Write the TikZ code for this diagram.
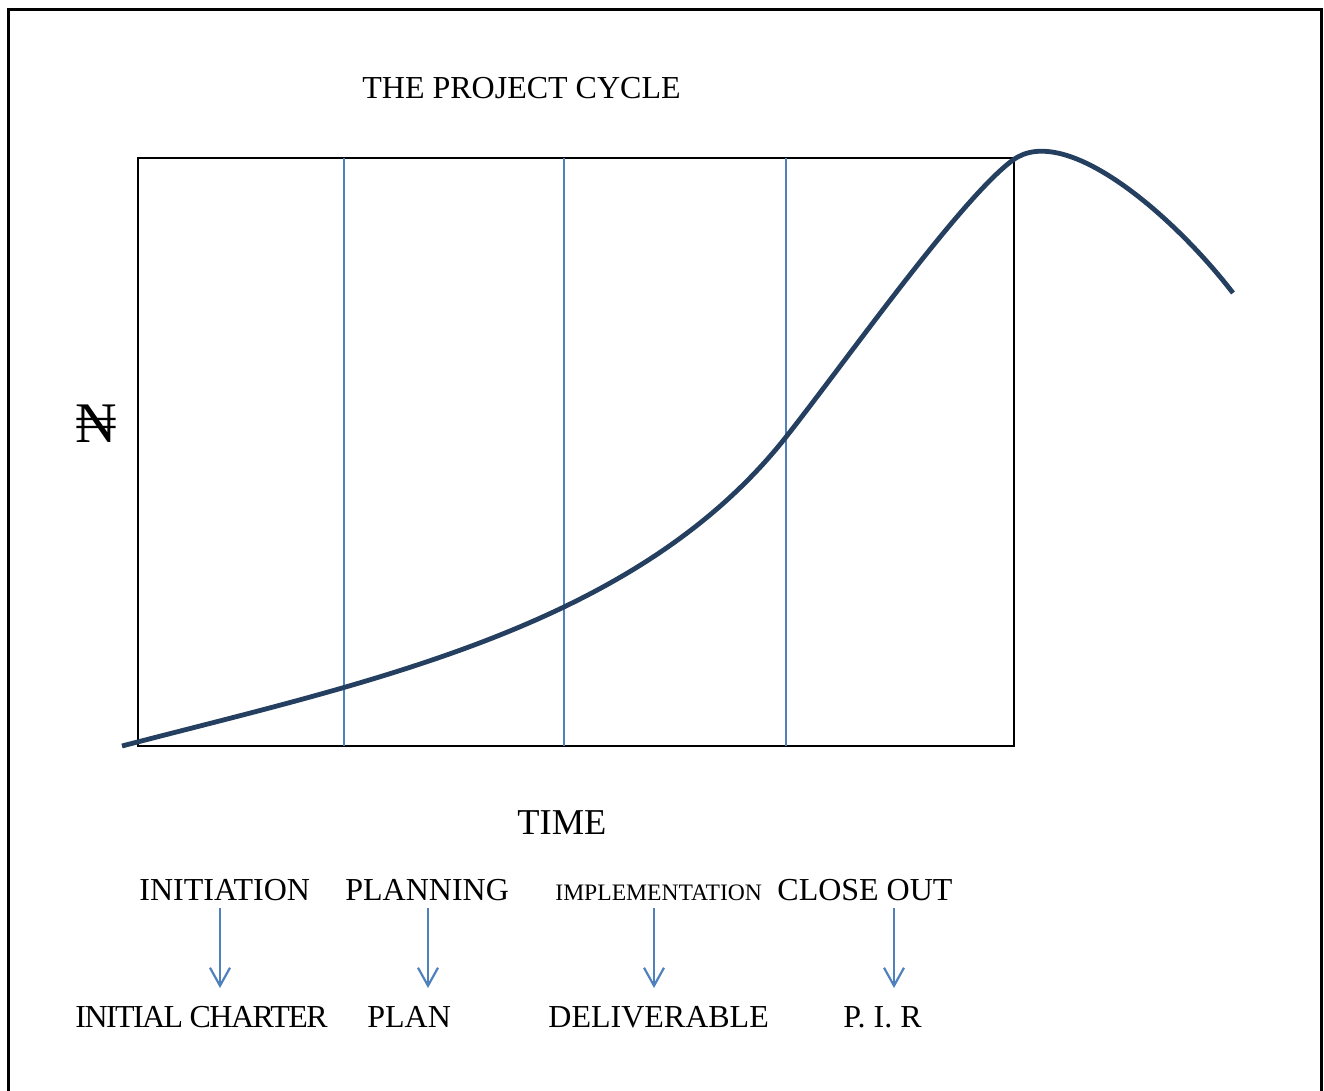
\documentclass[tikz,border=0pt]{standalone}
\usepackage{fontspec}
\setmainfont{Liberation Serif}
\usetikzlibrary{arrows.meta}
\definecolor{curveblue}{HTML}{243F60}
\definecolor{lineblue}{HTML}{4F81BD}
\begin{document}
\begin{tikzpicture}[x=0.5pt,y=-0.5pt,
  lbl/.style={inner sep=0pt, anchor=base west, font=\fontsize{16}{18}\selectfont},
  phasearrow/.style={draw=lineblue, line width=1.1pt, -{Straight Barb[length=9pt,width=10pt,line width=1.1pt]}},
  divider/.style={draw=lineblue, line width=0.75pt},
  frameline/.style={draw=black, line width=1.5pt}]
\useasboundingbox (0,0) rectangle (1324,1091);
% outer frame
\draw[frameline] (8,1091) -- (8,10) -- (1321,10) -- (1321,1091);
% chart box
\draw[black, line width=1pt] (138,158) rectangle (1014,746);
% dividers
\draw[divider] (344,158) -- (344,746);
\draw[divider] (564,158) -- (564,746);
\draw[divider] (786,158) -- (786,746);
% curve
\draw[curveblue, line width=2.4pt]
  (122,746) .. controls (372,681) and (636,627) .. (786,437)
            .. controls (846,361) and (961,198) .. (1013,160)
            .. controls (1065,122) and (1173,215) .. (1233,293);
% texts
\node[lbl] (title) at (362,99) {THE PROJECT CYCLE};
\node[lbl, font=\fontsize{28.7}{30}\selectfont] (naira) at (75,443) {\char"20A6};
\node[lbl, font=\fontsize{18.2}{20}\selectfont] (time) at (517,834) {TIME};
\node[lbl] (init) at (139,900) {INITIATION};
\node[lbl] (plng) at (345,900) {PLANNING};
\node[lbl, font=\fontsize{11.8}{13}\selectfont] (impl) at (555,900) {IMPLEMENTATION};
\node[lbl] (close) at (777,900) {CLOSE OUT};
\node[lbl] (charter) at (75,1027) {\addfontfeature{LetterSpace=-4.9}INITIAL CHARTER};
\node[lbl] (plan) at (367,1027) {PLAN};
\node[lbl] (deliv) at (548,1027) {DELIVERABLE};
\node[lbl] (pir) at (843,1027) {P. I. R};
% arrows
\coordinate (a1s) at (220,908); \coordinate (a1e) at (220,988);
\coordinate (a2s) at (428,908); \coordinate (a2e) at (428,988);
\coordinate (a3s) at (654,908); \coordinate (a3e) at (654,988);
\coordinate (a4s) at (894,908); \coordinate (a4e) at (894,988);
\draw[phasearrow] (a1s) -- (a1e);
\draw[phasearrow] (a2s) -- (a2e);
\draw[phasearrow] (a3s) -- (a3e);
\draw[phasearrow] (a4s) -- (a4e);
\end{tikzpicture}
\end{document}
